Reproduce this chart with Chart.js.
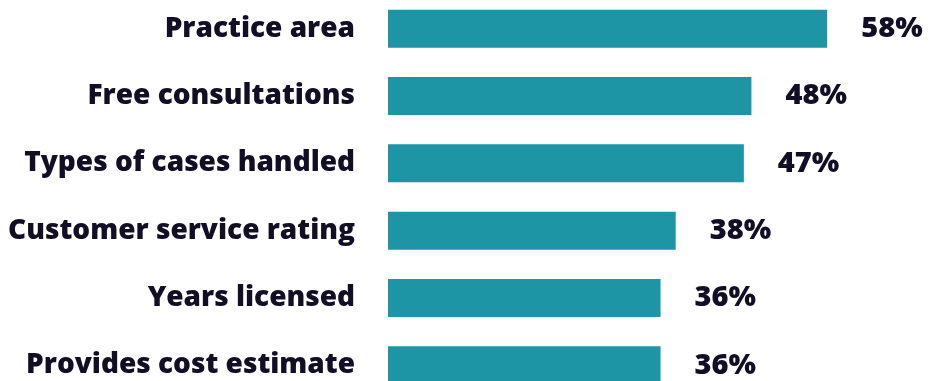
<!DOCTYPE html>
<html>
<head>
<meta charset="utf-8">
<script src="https://cdn.jsdelivr.net/npm/chart.js@4.4.1/dist/chart.umd.min.js"></script>
<style>
  html, body { margin: 0; padding: 0; background: #fff; overflow: hidden; }
  #chart { position: absolute; left: 0; top: -5px; }
</style>
</head>
<body>
<canvas id="chart" width="930" height="404"></canvas>
<script>
// Données du graphique
const categories = ["Practice area", "Free consultations", "Types of cases handled",
                    "Customer service rating", "Years licensed", "Provides cost estimate"];
const values = [58, 48, 47, 38, 36, 36];

const barColor = "#1d95a5";
const textColor = "#120f24";
const fontFamily = "'Open Sans', Lato, sans-serif";

// Étiquettes de valeur à droite des barres
const valueLabels = {
    id: "valueLabels",
    afterDatasetsDraw(chart) {
        const ctx = chart.ctx;
        const meta = chart.getDatasetMeta(0);
        ctx.save();
        ctx.font = "800 29px " + fontFamily;
        ctx.fillStyle = textColor;
        ctx.textAlign = "left";
        ctx.textBaseline = "middle";
        meta.data.forEach((bar, i) => {
            ctx.fillText(values[i] + "%", bar.x + 34, bar.y);
        });
        ctx.restore();
    }
};

const config = {
    type: "bar",
    data: {
        labels: categories,
        datasets: [{
            data: values,
            backgroundColor: barColor,
            borderWidth: 0,
            categoryPercentage: 1,
            barPercentage: 0.565
        }]
    },
    options: {
        indexAxis: "y",
        responsive: false,
        animation: false,
        layout: { padding: { left: 0, right: 12, top: 0, bottom: 0 } },
        plugins: {
            legend: { display: false },
            tooltip: { enabled: false }
        },
        scales: {
            x: {
                display: false,
                min: 0,
                max: 70
            },
            y: {
                grid: { display: false, drawTicks: false },
                border: { display: false },
                ticks: {
                    color: textColor,
                    font: { family: fontFamily, size: 28, weight: "800" },
                    padding: 33
                },
                afterFit(scale) {
                    scale.width = 388;
                    scale.paddingTop = 0;
                    scale.paddingBottom = 0;
                }
            }
        }
    },
    plugins: [valueLabels]
};

new Chart(document.getElementById("chart"), config);
</script>
</body>
</html>
